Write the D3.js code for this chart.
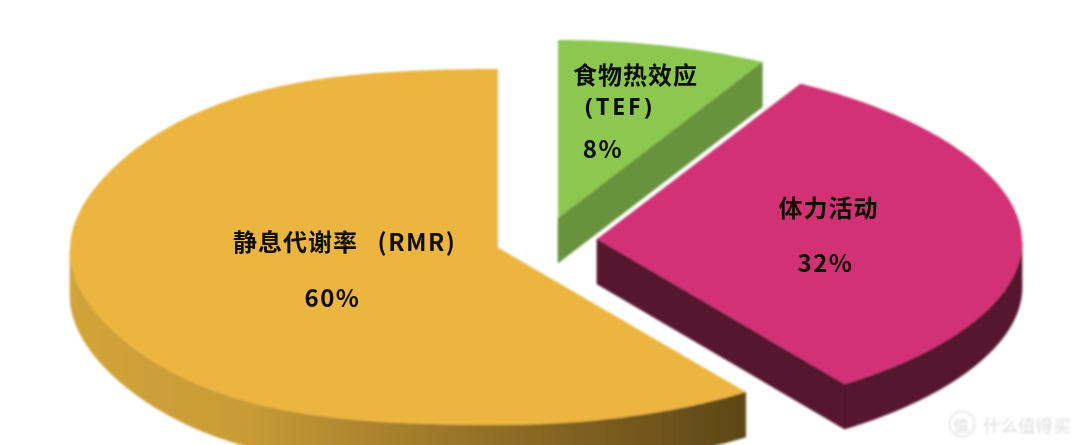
<!DOCTYPE html>
<html>
<head>
<meta charset="utf-8">
<script src="https://cdn.jsdelivr.net/npm/d3@7/dist/d3.min.js"></script>
<style>
html,body{margin:0;padding:0;background:#fff;overflow:hidden}
text{font-family:"Noto Sans CJK SC","Noto Sans",sans-serif;font-weight:700;fill:#0c0a04}
</style>
</head>
<body>
<script>
// chart values, clockwise from twelve o'clock
var categories = ["食物热效应", "体力活动", "静息代谢率"];
var abbreviations = ["(TEF)", "(RMR)"];
var values = [8, 32, 60];
var topColors = ["#8cc850", "#d23375", "#ecb53f"];
var wallColors = ["#68923e", "#55122e", "url(#goldWall)"];

var width = 1080, height = 445;
var ry = 178, depth = 45;
var rx = [427, 425, 427];
// where each slice's point sits once pulled out of the pie
var apex = [[558, 218], [597, 239], [497, 247]];
// the source is a perspective shot, not a clean ellipse
var sag = [0, 3, 3];

var svg = d3.select("body").append("svg").attr("width", width).attr("height", height).style("display", "block");

var defs = svg.append("defs");
defs.append("filter").attr("id", "soft").append("feGaussianBlur").attr("stdDeviation", 0.8);
defs.append("filter").attr("id", "softText").append("feGaussianBlur").attr("stdDeviation", 0.35);
var grad = defs.append("linearGradient").attr("id", "goldWall").attr("gradientUnits", "userSpaceOnUse")
	.attr("x1", 70).attr("x2", 745).attr("y1", 0).attr("y2", 0);
grad.append("stop").attr("offset", "0%").attr("stop-color", "#d2a338");
grad.append("stop").attr("offset", "25%").attr("stop-color", "#c99c36");
grad.append("stop").attr("offset", "65%").attr("stop-color", "#8e6c26");
grad.append("stop").attr("offset", "100%").attr("stop-color", "#5e4617");

var slices = d3.pie().sort(null)(values);
var line = d3.line();

function rim(a, i, drop) {
	var s = Math.sin(a), c = Math.cos(a), d = Math.pow(Math.sin(2 * a), 2);
	var x = rx[i] * s * (s > 0 ? 1 - 0.01 * d : 1);
	var y = -ry * c * (s < 0 ? 1 + 0.07 * d : 1) + sag[i] * s * s;
	return [apex[i][0] + x, apex[i][1] + y + drop];
}

function sweep(a0, a1) {
	return d3.range(a0, a1, 0.01).concat([a1]);
}

var g = svg.append("g").attr("filter", "url(#soft)");

// magenta goes last, its edge covers the green wall
[0, 2, 1].forEach(function (i) {
	var s = slices[i];

	// outer wall, only the front half of the rim shows
	var a0 = Math.max(s.startAngle, Math.PI / 2), a1 = Math.min(s.endAngle, Math.PI * 1.5);
	if (a1 > a0) {
		var angles = sweep(a0, a1);
		var pts = angles.map(function (a) { return rim(a, i, 0); })
			.concat(angles.slice().reverse().map(function (a) { return rim(a, i, depth); }));
		g.append("path").attr("d", line(pts) + "Z").attr("fill", wallColors[i])
			.attr("stroke", wallColors[i]).attr("stroke-width", 0.6);
	}

	// cut wall along the closing edge
	var e = s.endAngle;
	g.append("path").attr("d", line([
		apex[i], rim(e, i, 0), rim(e, i, depth), [apex[i][0], apex[i][1] + depth]
	]) + "Z").attr("fill", wallColors[i]).attr("stroke", wallColors[i]).attr("stroke-width", 0.6);

	// top face
	var face = [apex[i]].concat(sweep(s.startAngle, s.endAngle).map(function (a) { return rim(a, i, 0); }));
	g.append("path").attr("d", line(face) + "Z").attr("fill", topColors[i]);
});

var labels = svg.append("g").attr("filter", "url(#softText)");

function label(txt, x, y, spacing) {
	return labels.append("text").attr("x", x).attr("y", y).attr("text-anchor", "middle")
		.attr("dominant-baseline", "central").style("font-size", "24px")
		.style("letter-spacing", spacing + "px").text(txt);
}

label(categories[0], 635.5, 73, 1);
label(abbreviations[0], 620, 106, 3).style("font-family", "'Noto Sans'").style("font-size", "23px");
label(values[0] + "%", 603, 147, 1.5);
label(categories[1], 828.5, 206, 1);
label(values[1] + "%", 825.5, 261, 1.5);
label(categories[2], 295.5, 240, 1);
label(abbreviations[1], 417, 240, 1.5);
label(values[2] + "%", 332.5, 296, 1.5);

// site watermark
var mark = svg.append("g").attr("filter", "url(#soft)");
mark.append("circle").attr("cx", 962).attr("cy", 424).attr("r", 12.5)
	.attr("fill", "none").attr("stroke", "#e2e2e2").attr("stroke-width", 1.5);
mark.append("text").attr("x", 961).attr("y", 424).attr("text-anchor", "middle").attr("dominant-baseline", "central")
	.style("font-size", "15px").style("font-weight", 400).style("fill", "#d8d8d8").text("值");
mark.append("text").attr("x", 983).attr("y", 424).attr("dominant-baseline", "central")
	.style("font-size", "17.5px").style("font-weight", 400).style("fill", "#dedede").text("什么值得买");
</script>
</body>
</html>
